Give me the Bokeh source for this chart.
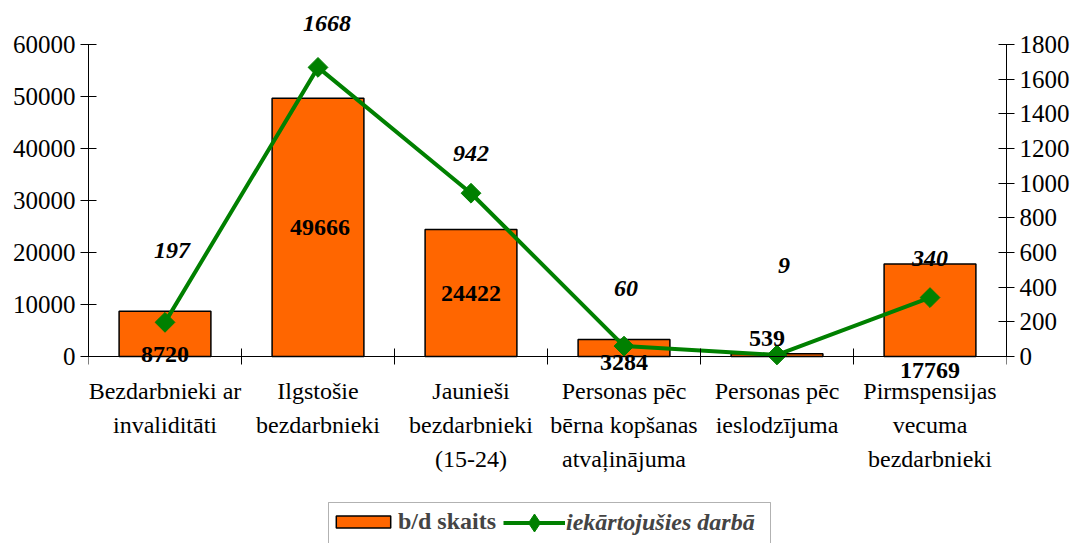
import math
from bokeh.plotting import figure
from bokeh.models import (ColumnDataSource, Range1d, LinearAxis, FixedTicker, CDSView, IndexFilter,
                          SingleIntervalTicker, LabelSet, Legend, LegendItem, BoxAnnotation)
from bokeh.embed import file_html
from bokeh.resources import INLINE

# ---------------- data ----------------
categories = [
    "Bezdarbnieki ar\ninvaliditāti",
    "Ilgstošie\nbezdarbnieki",
    "Jaunieši\nbezdarbnieki\n(15-24)",
    "Personas pēc\nbērna kopšanas\natvaļinājuma",
    "Personas pēc\nieslodzījuma",
    "Pirmspensijas\nvecuma\nbezdarbnieki",
]
bd_skaits = [8720, 49666, 24422, 3284, 539, 17769]
iekartojusies = [197, 1668, 942, 60, 9, 340]
bar_name = "b/d skaits"
line_name = "iekārtojušies darbā"
left_max, left_step = 60000, 10000
right_max, right_step = 1800, 200

# ---------------- layout / style ----------------
W, H = 1079, 543
AX_TOP, AX_BOTTOM = 44, 356          # pixel rows of axis max and zero
FR_LEFT, FR_RIGHT = 88, 1006         # pixel columns of the two value axes
bar_lbl_dx = [0, 2, 0, 0, -10, 0]
bar_lbl_dy = [-21, 0, 0, -15, 17, -60]
line_lbl_dx = [7, 9, 0, 2, 7, 0]
line_lbl_dy = [72, 44, 40, 58, 89, 39]

FONT = "'Liberation Serif'"
ORANGE = "#FF6600"
GREEN = "#008000"

# value ranges extended so that the frame covers the whole canvas height,
# while the visible axes run only from 0 to their max
upp_l = left_max / (AX_BOTTOM - AX_TOP)
upp_r = right_max / (AX_BOTTOM - AX_TOP)
yl_range = Range1d(-(H - AX_BOTTOM) * upp_l, left_max + AX_TOP * upp_l)
yr_range = Range1d(-(H - AX_BOTTOM) * upp_r, right_max + AX_TOP * upp_r)

xs = [i + 0.5 for i in range(len(categories))]

bar_src = ColumnDataSource(dict(x=xs, top=bd_skaits, mid=[v / 2 for v in bd_skaits],
                                text=[str(v) for v in bd_skaits],
                                dx=bar_lbl_dx, dy=bar_lbl_dy))
line_src = ColumnDataSource(dict(x=xs, y=iekartojusies,
                                 text=[str(v) for v in iekartojusies],
                                 dx=line_lbl_dx, dy=line_lbl_dy))

p = figure(width=W, height=H, output_backend="svg", toolbar_location=None,
           x_range=Range1d(0, len(categories)), y_range=yl_range,
           x_axis_type=None, y_axis_type=None,
           min_border_left=FR_LEFT, min_border_right=W - FR_RIGHT,
           min_border_top=0, min_border_bottom=0)
p.extra_y_ranges = {"right": yr_range}
p.outline_line_color = None
p.background_fill_color = "white"
p.border_fill_color = "white"


def style_axis(ax, size="25px"):
    ax.major_label_text_font = FONT
    ax.major_label_text_font_size = size
    ax.major_label_text_color = "black"
    ax.axis_line_color = "black"
    ax.major_tick_line_color = "black"
    ax.minor_tick_line_color = None
    ax.major_tick_in = 8
    ax.major_tick_out = 8


yl = LinearAxis(ticker=SingleIntervalTicker(interval=left_step, num_minor_ticks=0),
                bounds=(0, left_max))
style_axis(yl)
yl.major_label_standoff = 5
p.add_layout(yl, "left")

yr = LinearAxis(y_range_name="right", bounds=(0, right_max),
                ticker=SingleIntervalTicker(interval=right_step, num_minor_ticks=0))
style_axis(yr)
yr.major_label_standoff = 5
p.add_layout(yr, "right")

# category axis: labels at the category centres, tick marks at the boundaries
xc = LinearAxis(ticker=FixedTicker(ticks=xs, minor_ticks=list(range(len(categories) + 1))),
                major_label_overrides={x: c for x, c in zip(xs, categories)},
                fixed_location=0)
style_axis(xc, "24px")
xc.major_tick_line_color = None
xc.major_tick_in = 0
xc.major_tick_out = 0
xc.minor_tick_line_color = "black"
xc.minor_tick_in = 8
xc.minor_tick_out = 8
xc.major_label_standoff = 13
xc.major_label_text_line_height = 1.32
p.add_layout(xc, "below")

# glyphs
bars = p.vbar(x="x", top="top", width=0.6, source=bar_src,
              fill_color=ORANGE, line_color="black", line_width=1.5)
line_r = p.line(x="x", y="y", source=line_src, y_range_name="right",
                line_color=GREEN, line_width=4)
scat_r = p.scatter(x="x", y="y", source=line_src, y_range_name="right",
                   marker="square", angle=math.pi / 4, size=14,
                   fill_color=GREEN, line_color=GREEN)
# legend-only diamond symbol: a 1px dot hidden under the first plotted marker
scat_leg = p.scatter(x="x", y="y", source=line_src, y_range_name="right",
                     view=CDSView(filter=IndexFilter(indices=[0])),
                     marker="diamond", size=1, fill_color=GREEN, line_color=GREEN)

# data labels
p.add_layout(LabelSet(x="x", y="mid", text="text", source=bar_src,
                      x_offset="dx", y_offset="dy",
                      text_align="center", text_baseline="middle",
                      text_font=FONT, text_font_size="24px", text_font_style="bold",
                      text_color="black"))
p.add_layout(LabelSet(x="x", y="y", text="text", source=line_src, y_range_name="right",
                      x_offset="dx", y_offset="dy",
                      text_align="center", text_baseline="middle",
                      text_font=FONT, text_font_size="24px", text_font_style="bold italic",
                      text_color="black"))

# legend (two parts inside one frame box)
legA = Legend(items=[LegendItem(label=bar_name, renderers=[bars])],
              location=(241, 8), orientation="horizontal",
              glyph_width=68, glyph_height=15, label_standoff=1, padding=5,
              label_text_font=FONT, label_text_font_size="24px", label_text_font_style="bold",
              border_line_color=None, background_fill_alpha=0)
legB = Legend(items=[LegendItem(label=line_name, renderers=[line_r, scat_leg])],
              location=(415, -2), orientation="horizontal",
              glyph_width=62, glyph_height=45, label_standoff=1, padding=5,
              label_text_font=FONT, label_text_font_size="24px", label_text_font_style="bold italic",
              border_line_color=None, background_fill_alpha=0)
p.add_layout(legA, "center")
p.add_layout(legB, "center")
p.add_layout(BoxAnnotation(left=240, right=682, top=41, bottom=-10,
                           left_units="screen", right_units="screen",
                           top_units="screen", bottom_units="screen",
                           fill_alpha=0, line_color="black", line_width=1))

open("out.html", "w").write(file_html(p, INLINE))
